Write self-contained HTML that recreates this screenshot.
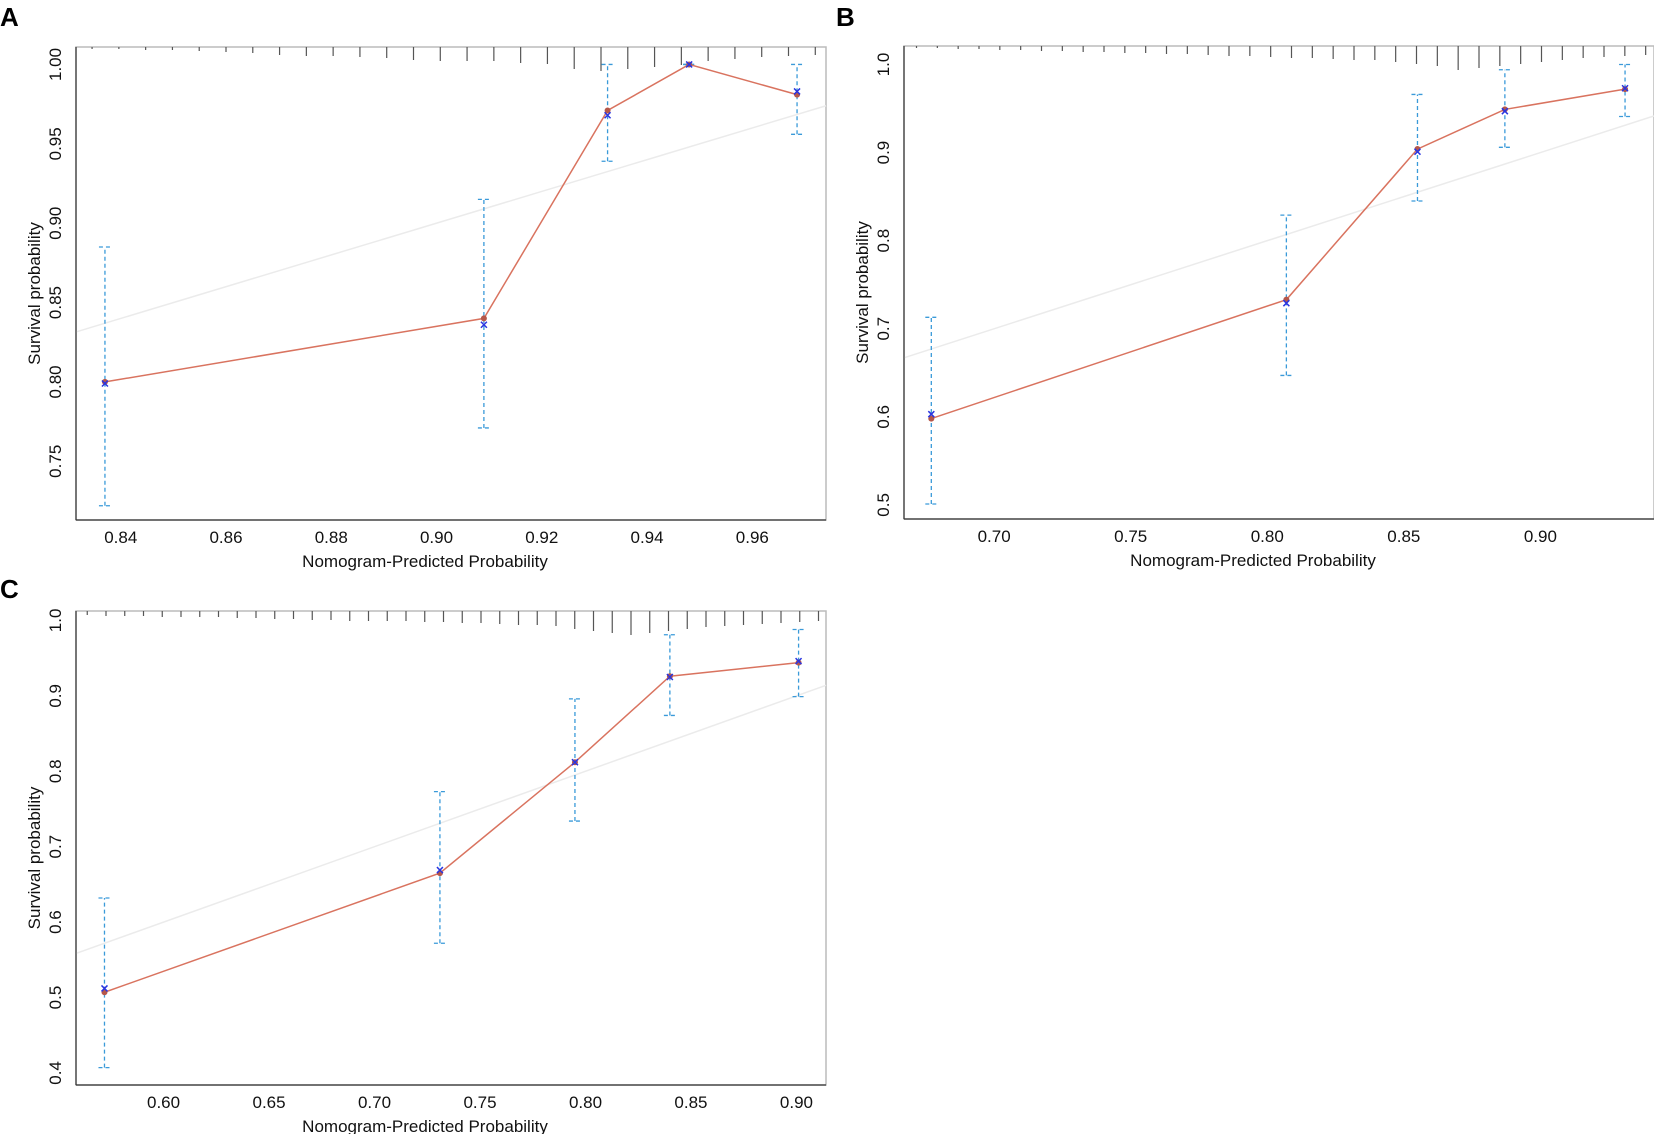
<!DOCTYPE html>
<html><head><meta charset="utf-8"><style>
html,body{margin:0;padding:0;background:#fff;}
svg{display:block;font-family:"Liberation Sans",Arial,sans-serif;}
</style></head><body>
<svg id="fig" width="1654" height="1134" viewBox="0 0 1654 1134" xmlns="http://www.w3.org/2000/svg"></svg>
<script>
// Panel A data
const aX=[0.837,0.909,0.9325,0.948,0.9685];
const aObs=[0.800,0.840,0.971,1.000,0.981];
const aKm=[0.799,0.836,0.968,1.000,0.983];
const aLo=[0.722,0.771,0.939,1.000,0.956];
const aHi=[0.885,0.915,1.000,1.000,1.000];
const aXTicks=[0.84,0.86,0.88,0.90,0.92,0.94,0.96];
const aYTicks=[0.75,0.80,0.85,0.90,0.95,1.00];
const aRug=[2,2,3,3,4,5,6,8,9,9,10,11,13,14,14,14,16,17,22,24,22,20,18,14,12,10,9,8];
// Panel B data
const bX=[0.677,0.807,0.855,0.887,0.931];
const bObs=[0.598,0.733,0.904,0.949,0.972];
const bKm=[0.603,0.729,0.901,0.947,0.973];
const bLo=[0.501,0.647,0.845,0.906,0.941];
const bHi=[0.713,0.829,0.966,0.994,1.000];
const bXTicks=[0.70,0.75,0.80,0.85,0.90];
const bYTicks=[0.5,0.6,0.7,0.8,0.9,1.0];
const bRug=[2,2,3,3,4,4,5,5,6,6,7,7,8,8,9,10,10,11,12,12,13,14,14,16,18,20,24,22,20,18,16,14,12,11,10,9];
// Panel C data
const cX=[0.572,0.731,0.795,0.840,0.901];
const cObs=[0.507,0.665,0.812,0.926,0.944];
const cKm=[0.512,0.669,0.812,0.925,0.946];
const cLo=[0.407,0.572,0.734,0.874,0.899];
const cHi=[0.632,0.773,0.896,0.981,0.988];
const cXTicks=[0.60,0.65,0.70,0.75,0.80,0.85,0.90];
const cYTicks=[0.4,0.5,0.6,0.7,0.8,0.9,1.0];
const cRug=[4,5,5,5,6,6,6,6,7,7,8,8,9,9,10,10,10,10,11,11,12,12,13,14,14,15,18,20,22,24,22,20,18,16,15,14,13,12,11,10];

const NS="http://www.w3.org/2000/svg";
const svg=document.getElementById('fig');
function el(tag,attrs,parent,text){const e=document.createElementNS(NS,tag);for(const k in attrs)e.setAttribute(k,attrs[k]);if(text!==undefined)e.textContent=text;(parent||svg).appendChild(e);return e;}

function panel(cfg){
  const g=el('g',{});
  
  
  const L=cfg.left,R=cfg.right,T=cfg.top,B=cfg.bottom;
  const sx=v=>L+(v-cfg.x0)/(cfg.x1-cfg.x0)*(R-L);
  const sy=v=>B-(v-cfg.y0)/(cfg.y1-cfg.y0)*(B-T);
  const lab=el('text',{x:cfg.lx,y:cfg.ly,'font-size':26,'font-weight':'bold',fill:'#000'},g,cfg.id);
  
  
  const frame=el('rect',{x:L,y:T,width:R-L,height:B-T,fill:'none',stroke:'#bbb','stroke-width':1.5},g);
  
  
  const dx0=Math.max(cfg.x0,cfg.y0),dx1=Math.min(cfg.x1,cfg.y1);
  const diag=el('line',{x1:sx(dx0),y1:sy(dx0),x2:sx(dx1),y2:sy(dx1),stroke:'#ebebeb','stroke-width':1.5},g);
  
  
  const step=(R-L)/cfg.rug.length;
  cfg.rug.forEach((len,i)=>{
    const r=el('line',{x1:L+step*(i+0.6),y1:T,x2:L+step*(i+0.6),y2:T+len,stroke:'#555','stroke-width':1.2},g);
    
    
  });
  const ya=el('line',{x1:L,y1:T,x2:L,y2:B,stroke:'#333','stroke-width':1.2},g);
  
  
  const xa=el('line',{x1:L,y1:B,x2:R,y2:B,stroke:'#333','stroke-width':1.2},g);
  
  
  cfg.xt.forEach(v=>{
    const t=el('text',{x:sx(v),y:B+23,'font-size':17,'text-anchor':'middle',fill:'#111'},g,v.toFixed(2));
    
    
  });
  cfg.yt.forEach(v=>{
    const t=el('text',{x:0,y:0,'font-size':17,'text-anchor':'middle',fill:'#111',transform:`translate(${L-15},${sy(v)}) rotate(-90)`},g,v.toFixed(cfg.yd));
    
    
  });
  const xt=el('text',{x:(L+R)/2-26,y:B+47,'font-size':17,'text-anchor':'middle',fill:'#111'},g,'Nomogram-Predicted Probability');
  
  
  const yt=el('text',{x:0,y:0,'font-size':17,'text-anchor':'middle',fill:'#111',transform:`translate(${L-36},${(T+B)/2+10}) rotate(-90)`},g,'Survival probability');
  
  
  cfg.x.forEach((v,i)=>{
    const x=sx(v);
    const e=el('g',{stroke:'#3a9ad9','stroke-width':1.3,'stroke-dasharray':'4,3'},g);
    
    
    el('line',{x1:x,y1:sy(cfg.lo[i]),x2:x,y2:sy(cfg.hi[i])},e);
    el('line',{x1:x-6,y1:sy(cfg.lo[i]),x2:x+6,y2:sy(cfg.lo[i])},e);
    el('line',{x1:x-6,y1:sy(cfg.hi[i]),x2:x+6,y2:sy(cfg.hi[i])},e);
  });
  const pts=cfg.x.map((v,i)=>sx(v)+','+sy(cfg.obs[i])).join(' ');
  const pl=el('polyline',{points:pts,fill:'none',stroke:'#d9735f','stroke-width':1.5},g);
  
  
  cfg.x.forEach((v,i)=>{
    const c=el('circle',{cx:sx(v),cy:sy(cfg.obs[i]),r:3,fill:'#b5574a'},g);
    
    
    const x=sx(v),y=sy(cfg.km[i]);
    const k=el('path',{d:`M${x-3},${y-3}L${x+3},${y+3}M${x-3},${y+3}L${x+3},${y-3}`,stroke:'#2a35e0','stroke-width':1.5},g);
    
    
  });
}
panel({id:'A',lx:0,ly:26,left:76,right:826,top:47,bottom:520,x0:0.8315,x1:0.974,y0:0.713,y1:1.011,x:aX,obs:aObs,km:aKm,lo:aLo,hi:aHi,xt:aXTicks,yt:aYTicks,yd:2,rug:aRug});
panel({id:'B',lx:836,ly:26,left:904,right:1654,top:46,bottom:519,x0:0.667,x1:0.9416,y0:0.484,y1:1.021,x:bX,obs:bObs,km:bKm,lo:bLo,hi:bHi,xt:bXTicks,yt:bYTicks,yd:1,rug:bRug});
panel({id:'C',lx:0,ly:598,left:76,right:826,top:611,bottom:1085,x0:0.5585,x1:0.914,y0:0.384,y1:1.0125,x:cX,obs:cObs,km:cKm,lo:cLo,hi:cHi,xt:cXTicks,yt:cYTicks,yd:1,rug:cRug});
</script>
</body></html>
